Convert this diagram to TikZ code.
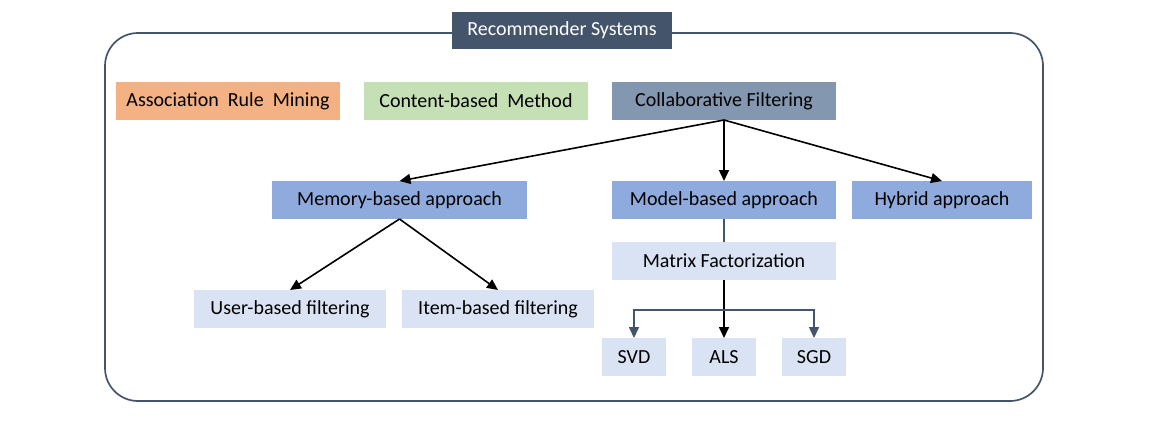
\documentclass[tikz,border=0pt]{standalone}
\usepackage{fontspec}
\setmainfont{Carlito}
\usetikzlibrary{arrows.meta}
\definecolor{slate}{HTML}{44546A}
\definecolor{orng}{HTML}{F4B183}
\definecolor{grn}{HTML}{C5E0B4}
\definecolor{cfblue}{HTML}{8497B0}
\definecolor{midblue}{HTML}{8FAADC}
\definecolor{lightblue}{HTML}{DAE3F3}
\tikzset{
  box/.style={inner sep=0pt, outer sep=0pt, font=\fontsize{20}{24}\selectfont, text=black},
  conn/.style={line width=1.6pt, draw=black, -{Triangle[length=11pt,width=10pt]}},
  sconn/.style={line width=1.6pt, draw=slate, -{Triangle[length=11pt,width=10pt]}},
}
\begin{document}
\begin{tikzpicture}[x=1pt,y=-1pt]
\useasboundingbox (0,0) rectangle (1158,440);
\fill[white] (0,0) rectangle (1158,440);
\draw[slate, line width=1.7pt, rounded corners=33pt] (105,33) rectangle (1043,401);
\node[box, fill=slate, text=white, minimum width=220pt, minimum height=37pt] (title) at (562,30.5) {Recommender Systems};
\node[box, fill=orng, minimum width=224pt, minimum height=38pt] (arm) at (228,101) {Association\ \ Rule\ \ Mining};
\node[box, fill=grn, minimum width=224pt, minimum height=38pt] (cbm) at (476,101) {Content-based\ \ Method};
\node[box, fill=cfblue, minimum width=224pt, minimum height=38pt] (cf) at (724,101) {Collaborative Filtering};
\node[box, fill=midblue, minimum width=255pt, minimum height=38pt] (mem) at (399.5,200) {Memory-based approach};
\node[box, fill=midblue, minimum width=224pt, minimum height=38pt] (model) at (724,200) {Model-based approach};
\node[box, fill=midblue, minimum width=180pt, minimum height=38pt] (hyb) at (942,200) {Hybrid approach};
\node[box, fill=lightblue, minimum width=224pt, minimum height=38pt] (mf) at (724,261) {Matrix Factorization};
\node[box, fill=lightblue, minimum width=192pt, minimum height=38pt] (user) at (290,309) {User-based filtering};
\node[box, fill=lightblue, minimum width=192pt, minimum height=38pt] (item) at (498,309) {Item-based filtering};
\node[box, fill=lightblue, minimum width=64pt, minimum height=38pt] (svd) at (634,357) {SVD};
\node[box, fill=lightblue, minimum width=64pt, minimum height=38pt] (als) at (724,357) {ALS};
\node[box, fill=lightblue, minimum width=64pt, minimum height=38pt] (sgd) at (814,357) {SGD};
\draw[conn] (cf.south) -- (mem.north);
\draw[conn] (cf.south) -- (model.north);
\draw[conn] (cf.south) -- (hyb.north);
\draw[conn] (mem.south) -- (user.north);
\draw[conn] (mem.south) -- (item.north);
\draw[slate, line width=1.6pt] (model.south) -- (mf.north);
\draw[conn] (mf.south) -- (als.north);
\coordinate (br) at (724,310);
\draw[sconn] (br) -| (svd.north);
\draw[sconn] (br) -| (sgd.north);
\end{tikzpicture}
\end{document}
